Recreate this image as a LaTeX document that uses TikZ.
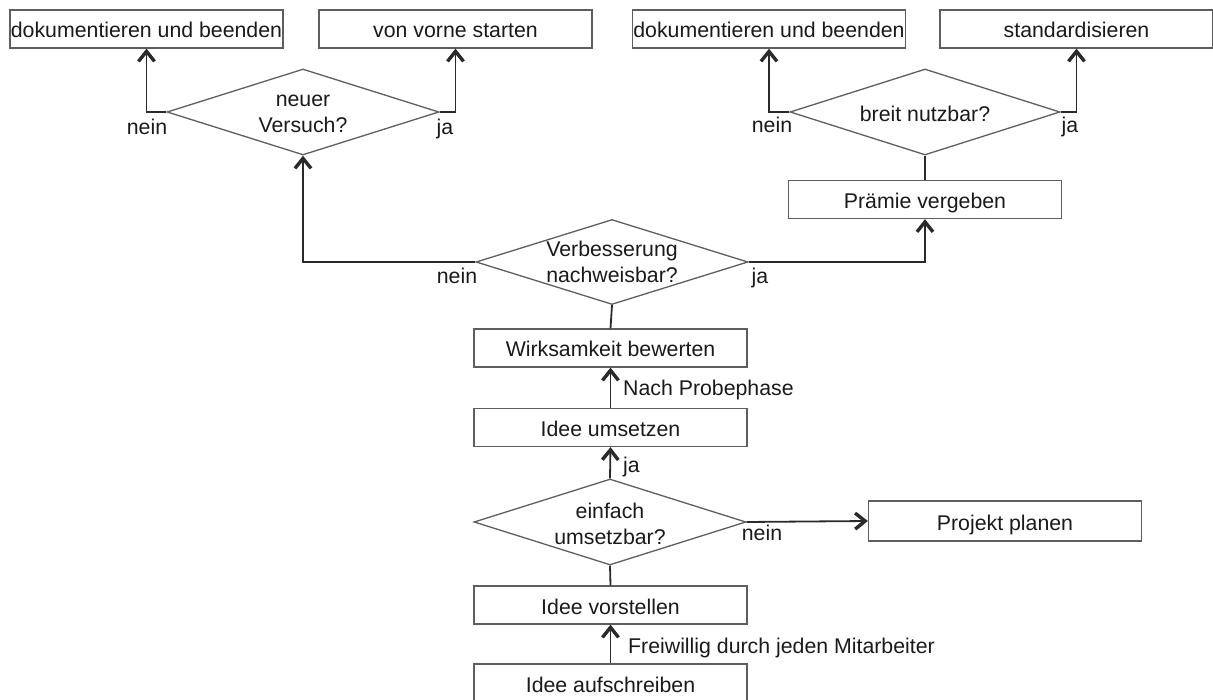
\documentclass[tikz,border=0pt]{standalone}
\usepackage{fontspec}
\setmainfont{Liberation Sans}
\usetikzlibrary{arrows.meta,shapes.geometric}
\definecolor{ln}{HTML}{2A2A2A}
\definecolor{bd}{HTML}{5E5E5E}
\definecolor{tx}{HTML}{1A1A1A}
\begin{document}
\begin{tikzpicture}[x=1pt,y=-1pt,
 font=\fontsize{21.3}{26}\selectfont,
 box/.style={draw=bd, line width=1.3pt, fill=white, minimum width=273pt, minimum height=38pt, inner sep=0pt, text=tx, text height=18pt, text depth=0pt},
 dia/.style={draw=bd, line width=1.3pt, shape=diamond, inner sep=0pt, minimum width=272pt, minimum height=86pt},
 con/.style={draw=ln, line width=1.8pt},
 arr/.style={con, -{Straight Barb[length=10pt,width=16pt,line width=3.4pt]}},
 lbl/.style={text=tx, inner sep=0pt, text height=16pt, text depth=2pt},
 dtxt/.style={text=tx, align=center, inner sep=0pt, yshift=-2pt}
]
\useasboundingbox (0,0) rectangle (1213,700);
% top boxes
\node[box] (dok1) at (146.5,29) {dokumentieren und beenden};
\node[box] (vorne) at (455.5,29) {von vorne starten};
\node[box] (dok2) at (769,29) {dokumentieren und beenden};
\node[box] (std) at (1076.5,29) {standardisieren};
% diamonds
\node[dia, label={[dtxt]center:neuer\\Versuch?}] (versuch) at (303,112) {};
\node[dia, minimum width=270pt, label={[dtxt]center:breit nutzbar?}] (breit) at (925,112) {};
\node[dia, minimum height=85pt, label={[dtxt, yshift=2pt]center:Verbesserung\\nachweisbar?}] (verb) at (612,262) {};
\node[dia, label={[dtxt]center:einfach\\umsetzbar?}] (einfach) at (610,522) {};
% other boxes
\node[box] (praemie) at (925,199.5) {Prämie vergeben};
\node[box] (wirk) at (610.5,348) {Wirksamkeit bewerten};
\node[box] (umsetzen) at (610.5,427.5) {Idee umsetzen};
\node[box, minimum height=40pt] (projekt) at (1005,521) {Projekt planen};
\node[box] (vorstellen) at (610.5,605) {Idee vorstellen};
\node[box] (aufschreiben) at (610.5,683) {Idee aufschreiben};
% connectors
\draw[arr] (versuch.west) -| (dok1.south);
\draw[arr] (versuch.east) -| (vorne.south);
\draw[arr] (breit.west) -| (dok2.south);
\draw[arr] (breit.east) -| (std.south);
\draw[con] (breit.south) -- (praemie.north);
\draw[arr] (verb.east) -| (praemie.south);
\draw[arr] (verb.west) -| (versuch.south);
\draw[con] (wirk.north) -- (verb.south);
\draw[arr] (umsetzen.north) -- (wirk.south);
\draw[arr] (einfach.north) -- (umsetzen.south);
\draw[arr] (einfach.east) -- (projekt.west);
\draw[con] (vorstellen.north) -- (einfach.south);
\draw[arr] (aufschreiben.north) -- (vorstellen.south);
% labels
\node[lbl] (l1) at (147,128) {nein};
\node[lbl] (l2) at (445,128) {ja};
\node[lbl] (l3) at (772,126) {nein};
\node[lbl] (l4) at (1070,126) {ja};
\node[lbl] (l5) at (457,277) {nein};
\node[lbl] (l6) at (760,277) {ja};
\node[lbl, anchor=west] (l7) at (623,389) {Nach Probephase};
\node[lbl, anchor=west] (l8) at (623,465) {ja};
\node[lbl] (l9) at (762,533) {nein};
\node[lbl, anchor=west] (l10) at (628,646) {Freiwillig durch jeden Mitarbeiter};
\end{tikzpicture}
\end{document}
